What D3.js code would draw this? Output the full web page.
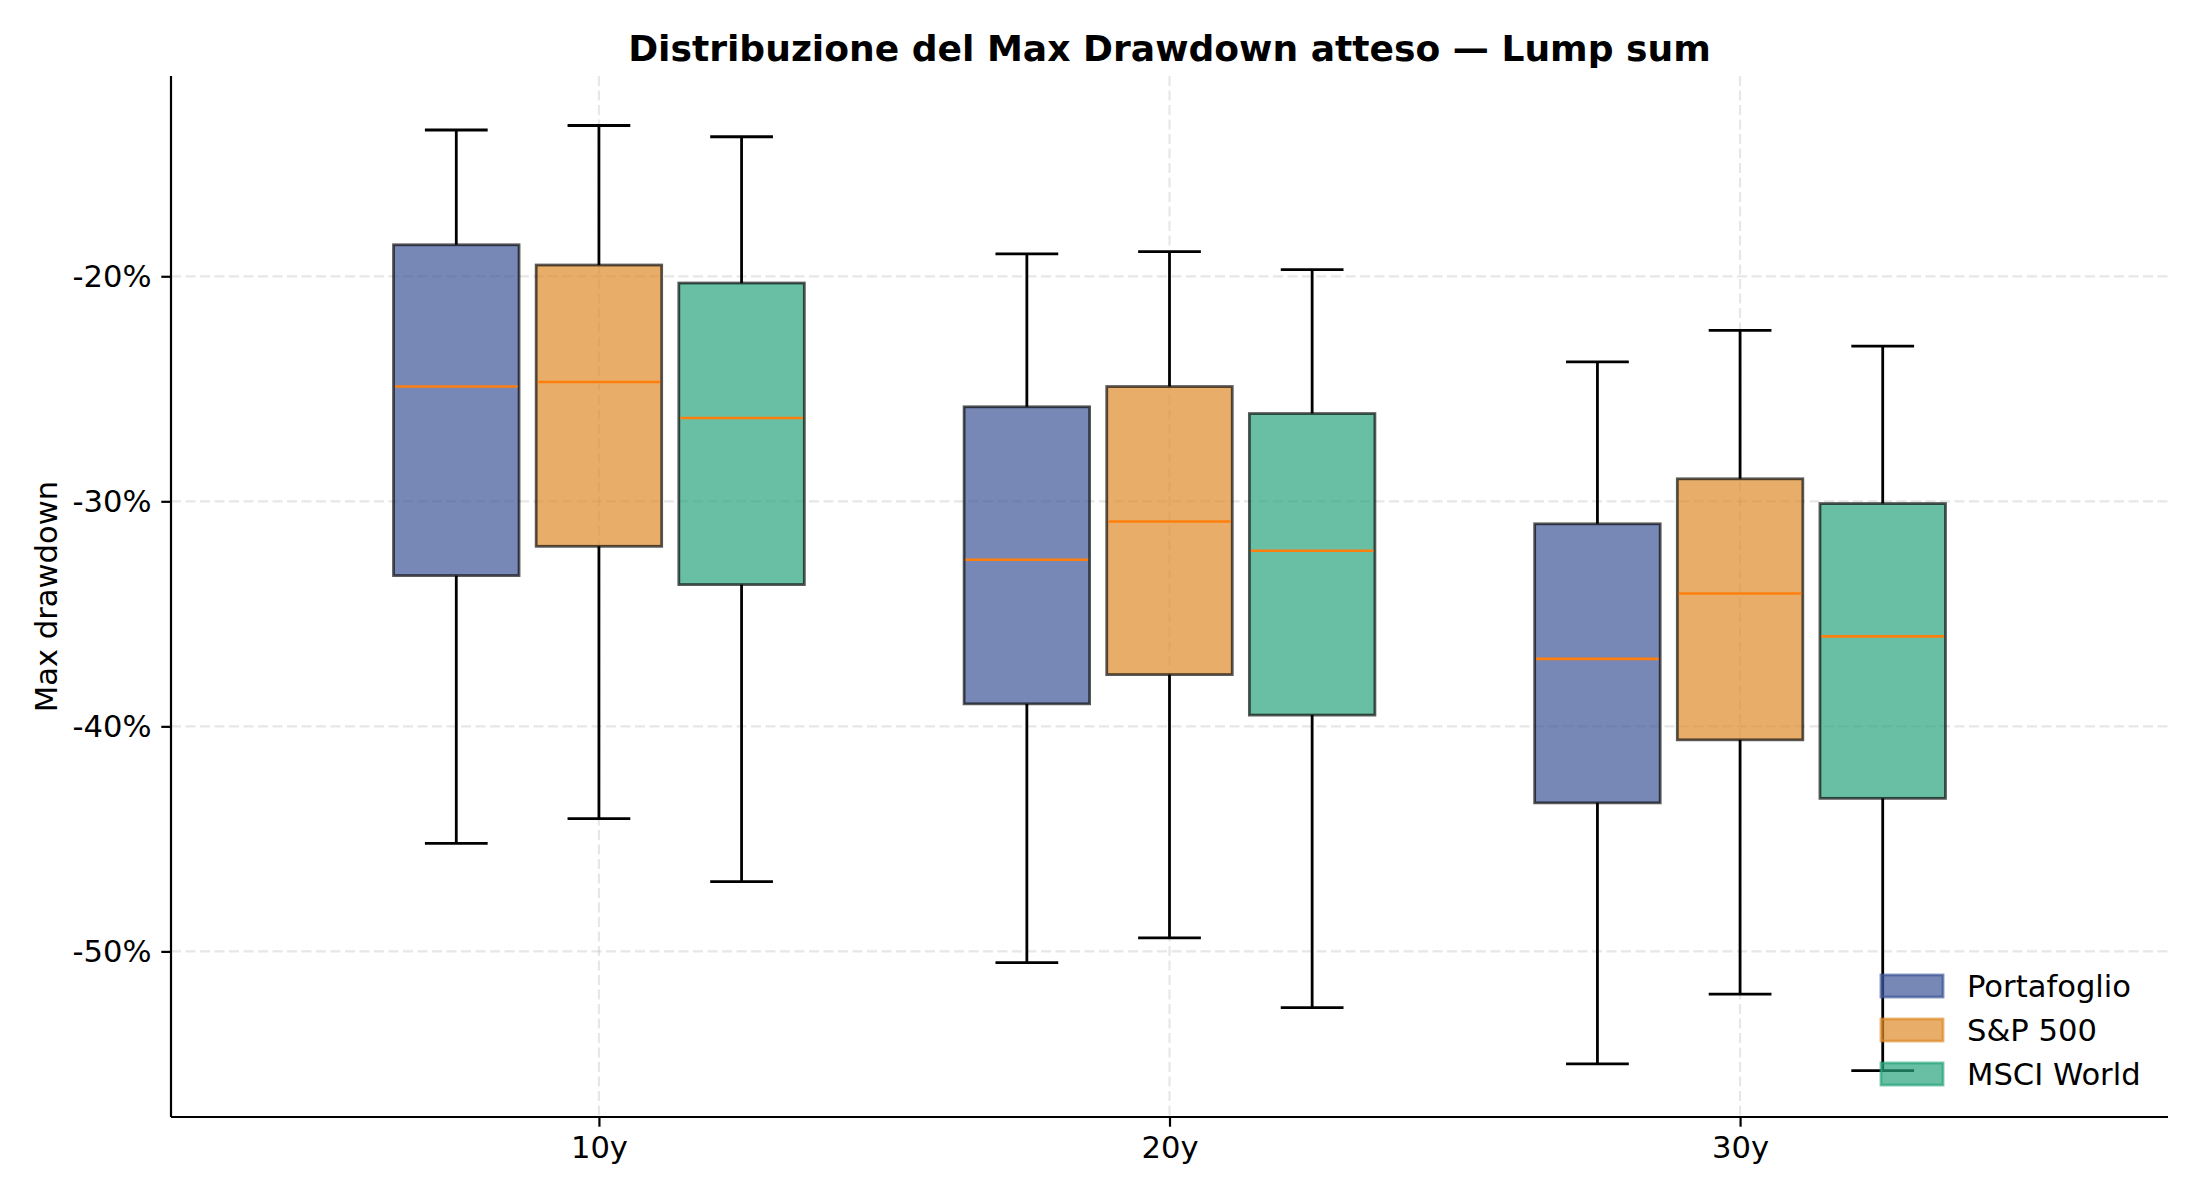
<!DOCTYPE html>
<meta charset="utf-8">

<head>
    <script src="https://cdn.jsdelivr.net/npm/d3@7"></script>
</head>
<style>
    body {
        margin: 0;
        background: #fff;
        font-family: "DejaVu Sans", sans-serif;
    }
</style>

<body>
    <script>
        'use strict';

        // five-number summaries per horizon: [low whisker, q1, median, q3, high whisker] in %
        const periods = ["10y", "20y", "30y"];
        const seriesNames = ["Portafoglio", "S&P 500", "MSCI World"];
        const portafoglio = [
            [-45.2, -33.3, -24.9, -18.6, -13.5],
            [-50.5, -39.0, -32.6, -25.8, -19.0],
            [-55.0, -43.4, -37.0, -31.0, -23.8]
        ];
        const sp500 = [
            [-44.1, -32.0, -24.7, -19.5, -13.3],
            [-49.4, -37.7, -30.9, -24.9, -18.9],
            [-51.9, -40.6, -34.1, -29.0, -22.4]
        ];
        const msciWorld = [
            [-46.9, -33.7, -26.3, -20.3, -13.8],
            [-52.5, -39.5, -32.2, -26.1, -19.7],
            [-55.3, -43.2, -36.0, -30.1, -23.1]
        ];
        const yTicks = [-20, -30, -40, -50];

        const allSeries = [portafoglio, sp500, msciWorld];
        const colors = ["#3d5597", "#de8a2a", "#2aa47d"];
        const offsets = [-0.25, 0, 0.25];

        const W = 2200, H = 1200;
        const plot = { left: 171, right: 2168, top: 76, bottom: 1117 };
        const fontSize = "30.6px";

        const svg = d3.select("body").append("svg")
            .attr("width", W).attr("height", H)
            .style("font-family", "'DejaVu Sans', sans-serif");

        const x = d3.scaleLinear().domain([0.25, 3.75]).range([plot.left, plot.right]);
        const y = d3.scaleLinear().domain([-57.36, -11.1]).range([plot.bottom, plot.top]);

        const boxW = x(0.22) - x(0);
        const capW = x(0.11) - x(0);

        // grid
        const grid = svg.append("g");
        grid.selectAll(".gy").data(yTicks).enter().append("line")
            .attr("x1", plot.left).attr("x2", plot.right)
            .attr("y1", d => y(d)).attr("y2", d => y(d))
            .attr("stroke", "#b0b0b0").attr("stroke-opacity", 0.3)
            .attr("stroke-width", 2.2).attr("stroke-dasharray", "10,4.5");
        grid.selectAll(".gx").data(periods).enter().append("line")
            .attr("x1", (d, i) => x(i + 1)).attr("x2", (d, i) => x(i + 1))
            .attr("y1", plot.top).attr("y2", plot.bottom)
            .attr("stroke", "#b0b0b0").attr("stroke-opacity", 0.3)
            .attr("stroke-width", 2.2).attr("stroke-dasharray", "10,4.5");

        // boxes
        allSeries.forEach((ser, si) => {
            const g = svg.append("g");
            ser.forEach((s, pi) => {
                const cx = x(pi + 1 + offsets[si]);
                const [lo, q1, med, q3, hi] = s;
                // whiskers
                g.append("line").attr("x1", cx).attr("x2", cx)
                    .attr("y1", y(q1)).attr("y2", y(lo))
                    .attr("stroke", "#000").attr("stroke-width", 2.8);
                g.append("line").attr("x1", cx).attr("x2", cx)
                    .attr("y1", y(q3)).attr("y2", y(hi))
                    .attr("stroke", "#000").attr("stroke-width", 2.8);
                g.append("line").attr("x1", cx - capW / 2).attr("x2", cx + capW / 2)
                    .attr("y1", y(lo)).attr("y2", y(lo))
                    .attr("stroke", "#000").attr("stroke-width", 2.8);
                g.append("line").attr("x1", cx - capW / 2).attr("x2", cx + capW / 2)
                    .attr("y1", y(hi)).attr("y2", y(hi))
                    .attr("stroke", "#000").attr("stroke-width", 2.8);
                // box
                g.append("rect")
                    .attr("x", cx - boxW / 2).attr("width", boxW)
                    .attr("y", y(q3)).attr("height", y(q1) - y(q3))
                    .attr("fill", colors[si]).attr("fill-opacity", 0.7)
                    .attr("stroke", "#000").attr("stroke-opacity", 0.65)
                    .attr("stroke-width", 2.8);
                g.append("line")
                    .attr("x1", cx - boxW / 2 + 1.5).attr("x2", cx + boxW / 2 - 1.5)
                    .attr("y1", y(med)).attr("y2", y(med))
                    .attr("stroke", "#ff7f0e").attr("stroke-width", 2.6);
            });
        });

        // axes
        const yAxis = svg.append("g").attr("transform", `translate(${plot.left},0)`)
            .call(d3.axisLeft(y).tickValues(yTicks).tickFormat(d => d + "%").tickSizeOuter(0).tickSize(9.7).tickPadding(9.7));
        const xAxis = svg.append("g").attr("transform", `translate(0,${plot.bottom})`)
            .call(d3.axisBottom(x).tickValues([1, 2, 3]).tickFormat((d, i) => periods[i]).tickSizeOuter(0).tickSize(9.7).tickPadding(9.7));
        [yAxis, xAxis].forEach(a => {
            a.select(".domain").attr("stroke", "#000").attr("stroke-width", 2.2);
            a.selectAll(".tick line").attr("stroke", "#000").attr("stroke-width", 2.2);
            a.selectAll(".tick text").attr("fill", "#000")
                .style("font-size", fontSize).style("font-family", "'DejaVu Sans', sans-serif");
        });
        yAxis.select(".domain").attr("d", `M0,${plot.top}V${plot.bottom}`);
        xAxis.select(".domain").attr("d", `M${plot.left},0H${plot.right}`);

        // labels
        svg.append("text")
            .attr("x", (plot.left + plot.right) / 2).attr("y", 61)
            .attr("text-anchor", "middle")
            .style("font-size", "36.1px").style("font-weight", "bold")
            .text("Distribuzione del Max Drawdown atteso — Lump sum");

        svg.append("text")
            .attr("transform", `translate(57,${(plot.top + plot.bottom) / 2}) rotate(-90)`)
            .attr("text-anchor", "middle")
            .style("font-size", fontSize)
            .text("Max drawdown");

        // legend
        const leg = svg.append("g").attr("transform", "translate(1881,975)");
        seriesNames.forEach((name, i) => {
            const row = leg.append("g").attr("transform", `translate(0,${i * 44})`);
            row.append("rect").attr("width", 62).attr("height", 22)
                .attr("fill", colors[i]).attr("fill-opacity", 0.7)
                .attr("stroke", colors[i]).attr("stroke-opacity", 0.7).attr("stroke-width", 2.8);
            row.append("text").attr("x", 86).attr("y", 11).attr("dy", "0.35em")
                .style("font-size", fontSize)
                .text(name);
        });
    </script>
</body>
